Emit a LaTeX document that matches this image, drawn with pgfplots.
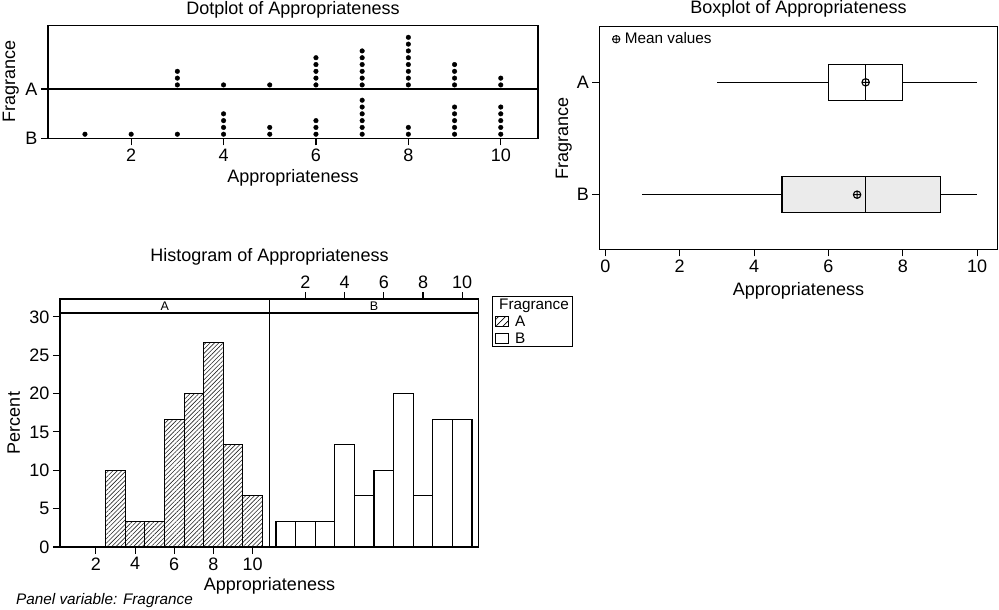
\documentclass[border=0pt]{standalone}
\usepackage{fontspec}
\setmainfont{Liberation Sans}
\usepackage{pgfplots}
\pgfplotsset{compat=1.18}
\usepgfplotslibrary{statistics}
\usetikzlibrary{patterns.meta}

\newcommand\fbig{\fontsize{18}{21}\selectfont}
\newcommand\fsmall{\fontsize{15.3}{17}\selectfont}
\newcommand\ftiny{\fontsize{12.5}{13}\selectfont}

\pgfplotsset{
  mtb/.style={
    scale only axis, anchor=south west,
    axis line style={line width=1.1pt},
    tick style={black, line width=1.1pt},
    major tick length=7pt, tick align=outside,
    /pgf/number format/assume math mode=true,
    tick label style={font=\fbig},
    label style={font=\fbig, inner sep=0pt},
    title style={font=\fbig, inner sep=0pt},
    xlabel style={at={(axis description cs:0.5,0)}, anchor=base, yshift=-44.5pt},
  },
}

\begin{document}
\begin{tikzpicture}
\path[use as bounding box] (0pt,0pt) rectangle (999pt,-610pt);

% dotplot
\begin{axis}[mtb, at={(48pt,-138.3pt)}, width=490pt, height=112.8pt,
  xmin=0.2, xmax=10.806, ymin=0, ymax=16.59,
  xtick={2,4,6,8,10}, xtick pos=lower,
  ytick={0,7.25}, yticklabels={B,A}, ytick pos=left,
  xlabel={Appropriateness}, ylabel={Fragrance},
  ylabel style={at={(axis description cs:-0.0673,0.5)}, anchor=base},
  title={Dotplot of Appropriateness},
  title style={at={(axis description cs:0.5,1)}, anchor=base, yshift=5pt}]
\addplot[black, line width=1.1pt] coordinates {(0.2,7.25)(10.806,7.25)};
% fragrance A
\addplot[only marks, mark=*, mark size=2.3pt, black] coordinates {
 (3,7.85)(3,8.85)(3,9.85)
 (4,7.85)
 (5,7.85)
 (6,7.85)(6,8.85)(6,9.85)(6,10.85)(6,11.85)
 (7,7.85)(7,8.85)(7,9.85)(7,10.85)(7,11.85)(7,12.85)
 (8,7.85)(8,8.85)(8,9.85)(8,10.85)(8,11.85)(8,12.85)(8,13.85)(8,14.85)
 (9,7.85)(9,8.85)(9,9.85)(9,10.85)
 (10,7.85)(10,8.85)};
% fragrance B
\addplot[only marks, mark=*, mark size=2.3pt, black] coordinates {
 (1,0.6)
 (2,0.6)
 (3,0.6)
 (4,0.6)(4,1.6)(4,2.6)(4,3.6)
 (5,0.6)(5,1.6)
 (6,0.6)(6,1.6)(6,2.6)
 (7,0.6)(7,1.6)(7,2.6)(7,3.6)(7,4.6)(7,5.6)
 (8,0.6)(8,1.6)
 (9,0.6)(9,1.6)(9,2.6)(9,3.6)(9,4.6)
 (10,0.6)(10,1.6)(10,2.6)(10,3.6)(10,4.6)};
\end{axis}

% boxplot
\begin{axis}[mtb, at={(599.3pt,-249.3pt)}, width=398.4pt, height=222.6pt,
  xmin=-0.16, xmax=10.55, ymin=0.514, ymax=2.495,
  xtick={0,2,4,6,8,10}, xtick pos=lower,
  ytick={1,2}, yticklabels={B,A}, ytick pos=left,
  xlabel={Appropriateness}, ylabel={Fragrance},
  xlabel style={yshift=-1.2pt},
  ylabel style={at={(axis description cs:-0.078,0.5)}, anchor=base},
  title={Boxplot of Appropriateness},
  title style={at={(axis description cs:0.5,1)}, anchor=base, yshift=7pt},
  boxplot/draw direction=x,
  boxplot/box extend=0.323,
  boxplot/whisker extend=0,
  boxplot/every average/.style={/tikz/mark=oplus, /tikz/mark size=3.7pt, /tikz/line width=0.9pt},
  legend style={draw=none, fill=none, font=\fsmall, at={(axis description cs:0,1)}, anchor=north west, xshift=10pt, yshift=-2pt},
  ]
\addlegendimage{only marks, mark=oplus, mark size=3.7pt, line width=0.9pt, black}
\addlegendentry{\hspace*{3pt}Mean values}
\addplot[draw=black, fill=white, line width=1.1pt,
  boxplot prepared={lower whisker=3, lower quartile=6, median=7,
    upper quartile=8, upper whisker=10, average=7, draw position=2}]
  coordinates {};
\addplot[draw=black, fill=black!8, line width=1.1pt,
  boxplot prepared={lower whisker=1, lower quartile=4.75, median=7,
    upper quartile=9, upper whisker=10, average=6.77, draw position=1}]
  coordinates {};
\end{axis}

% histogram, panel A
\begin{axis}[mtb, at={(60pt,-547pt)}, width=209.5pt, height=248pt,
  xmin=0.17, xmax=10.86, ymin=0, ymax=32.33,
  xtick={2,4,6,8,10}, xtick pos=lower,
  ytick={0,5,10,15,20,25,30}, ytick pos=left,
  xlabel={Appropriateness}, ylabel={Percent},
  xlabel style={at={(axis description cs:1,0)}, yshift=1.5pt},
  ylabel style={at={(axis description cs:-0.191,0.5)}, anchor=base},
  title={Histogram of Appropriateness},
  title style={at={(axis description cs:1,1)}, anchor=base, yshift=31.3pt}]
\addplot[black, line width=1.1pt] coordinates {(0.17,30.5)(10.86,30.5)};
\addplot[ybar interval, draw=black, line width=1.1pt,
  pattern={Lines[angle=45, distance=3.1pt, line width=0.6pt]}, pattern color=black!85]
  coordinates {(2.5,10)(3.5,3.333)(4.5,3.333)(5.5,16.667)(6.5,20)(7.5,26.667)(8.5,13.333)(9.5,6.667)(10.5,0)};
\node[font=\ftiny] at (axis cs:5.515,31.42) {A};
\end{axis}

% histogram, panel B
\begin{axis}[mtb, at={(269.5pt,-547pt)}, width=209pt, height=248pt,
  xmin=0.17, xmax=10.83, ymin=0, ymax=32.33,
  xtick={2,4,6,8,10}, xtick pos=upper, ytick=\empty,
  legend style={at={(axis description cs:1,1)}, anchor=north west, xshift=13.2pt, yshift=3pt,
    draw=black, line width=1.1pt, font=\fsmall, inner xsep=3pt, inner ysep=1pt,
    row sep=3pt, nodes={inner sep=1pt},
    /tikz/every odd column/.append style={column sep=5pt}},
  legend cell align=left,
  legend image code/.code={\draw[#1] (0pt,-5pt) rectangle (13pt,5pt);}]
\addlegendimage{empty legend}
\addlegendentry{\hspace*{-16pt}Fragrance}
\addlegendimage{draw=black, line width=0.9pt, pattern={Lines[angle=45, distance=5pt, line width=0.7pt]}}
\addlegendentry{A}
\addlegendimage{draw=black, line width=0.9pt, fill=white}
\addlegendentry{B}
\addplot[black, line width=1.1pt, forget plot] coordinates {(0.17,30.5)(10.83,30.5)};
\addplot[ybar interval, draw=black, fill=white, line width=1.1pt, forget plot]
  coordinates {(0.5,3.333)(1.5,3.333)(2.5,3.333)(3.5,13.333)(4.5,6.667)(5.5,10)(6.5,20)(7.5,6.667)(8.5,16.667)(9.5,16.667)(10.5,0)};
\node[font=\ftiny] at (axis cs:5.5,31.42) {B};
\end{axis}

\node[anchor=base west, inner sep=0pt, font=\fsmall\itshape] at (16pt,-604.3pt) {Panel variable: Fragrance};
\end{tikzpicture}
\end{document}
